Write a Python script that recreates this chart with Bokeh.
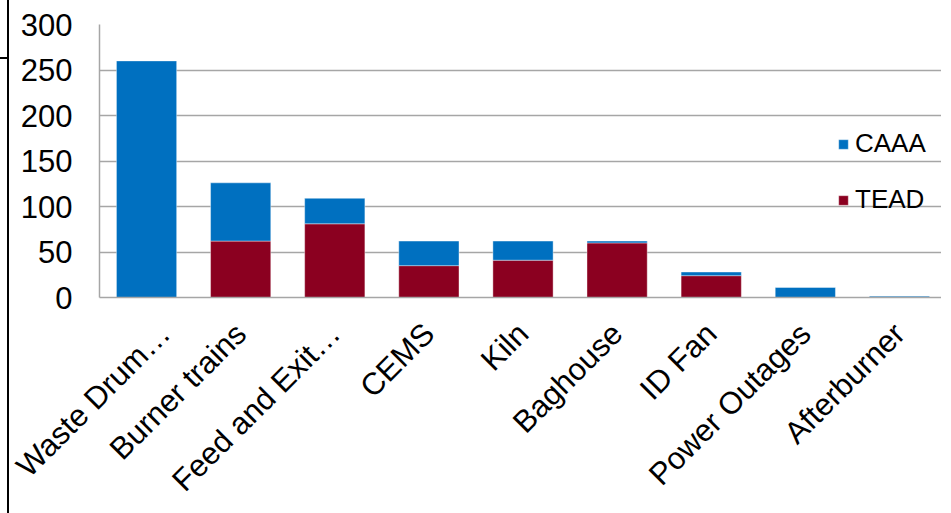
from bokeh.plotting import figure
from bokeh.models import Range1d, FixedTicker, Legend, LegendItem
from bokeh.embed import file_html
from bokeh.resources import INLINE

categories = ["Waste Drum…", "Burner trains", "Feed and Exit…", "CEMS", "Kiln",
              "Baghouse", "ID Fan", "Power Outages", "Afterburner"]
tead = [0, 62, 81, 35, 41, 60, 24, 0, 0]
caaa = [260, 64, 28, 27, 21, 2, 4, 11, 1.5]
y_ticks = [0, 50, 100, 150, 200, 250, 300]

BLUE = "#0070C0"
RED = "#8B0020"
FONT = "Liberation Sans"

page_style = {
    "padding-left": "9px",
    "background": ("linear-gradient(black, black) 7px 0px / 2px 100% no-repeat, "
                   "linear-gradient(black, black) 0px 57px / 9px 2px no-repeat, white"),
}

p = figure(x_range=categories, width=941, height=513, output_backend="svg",
           toolbar_location=None, min_border_left=90, min_border_top=24,
           min_border_bottom=216, min_border_right=4, styles=page_style)
p.y_range = Range1d(0, 300)
p.outline_line_color = None

data = dict(cat=categories, TEAD=tead, CAAA=caaa)
rs = p.vbar_stack(["TEAD", "CAAA"], x="cat", width=0.64, source=data,
                  color=[RED, BLUE], line_color="white", line_alpha=0.4, line_width=1)

legend = Legend(items=[LegendItem(label="CAAA", renderers=[rs[1]]),
                       LegendItem(label="TEAD", renderers=[rs[0]])],
                location=(738, 82), orientation="vertical")
legend.background_fill_alpha = 0
legend.border_line_color = None
legend.padding = 0
legend.margin = 0
legend.glyph_width = 12
legend.glyph_height = 12
legend.label_height = 30
legend.spacing = 25
legend.label_standoff = 6
legend.label_text_font = FONT
legend.label_text_font_size = "26px"
legend.label_text_color = "black"
p.add_layout(legend)

p.xgrid.grid_line_color = None
p.ygrid.grid_line_color = "#a6a6a6"
p.ygrid.grid_line_width = 1.5

p.yaxis.ticker = FixedTicker(ticks=y_ticks)
for ax in (p.xaxis, p.yaxis):
    ax.axis_line_color = "#a6a6a6"
    ax.axis_line_width = 1.5
    ax.major_tick_line_color = None
    ax.minor_tick_line_color = None
    ax.major_tick_out = 0
    ax.major_tick_in = 0
    ax.major_label_text_font = FONT
    ax.major_label_text_color = "black"
p.yaxis.major_label_text_font_size = "31px"
p.yaxis.major_label_standoff = 27
p.xaxis.major_label_text_font_size = "31px"
p.xaxis.major_label_orientation = 0.785398
p.xaxis.major_label_standoff = 31

open("out.html", "w").write(file_html(p, INLINE))
